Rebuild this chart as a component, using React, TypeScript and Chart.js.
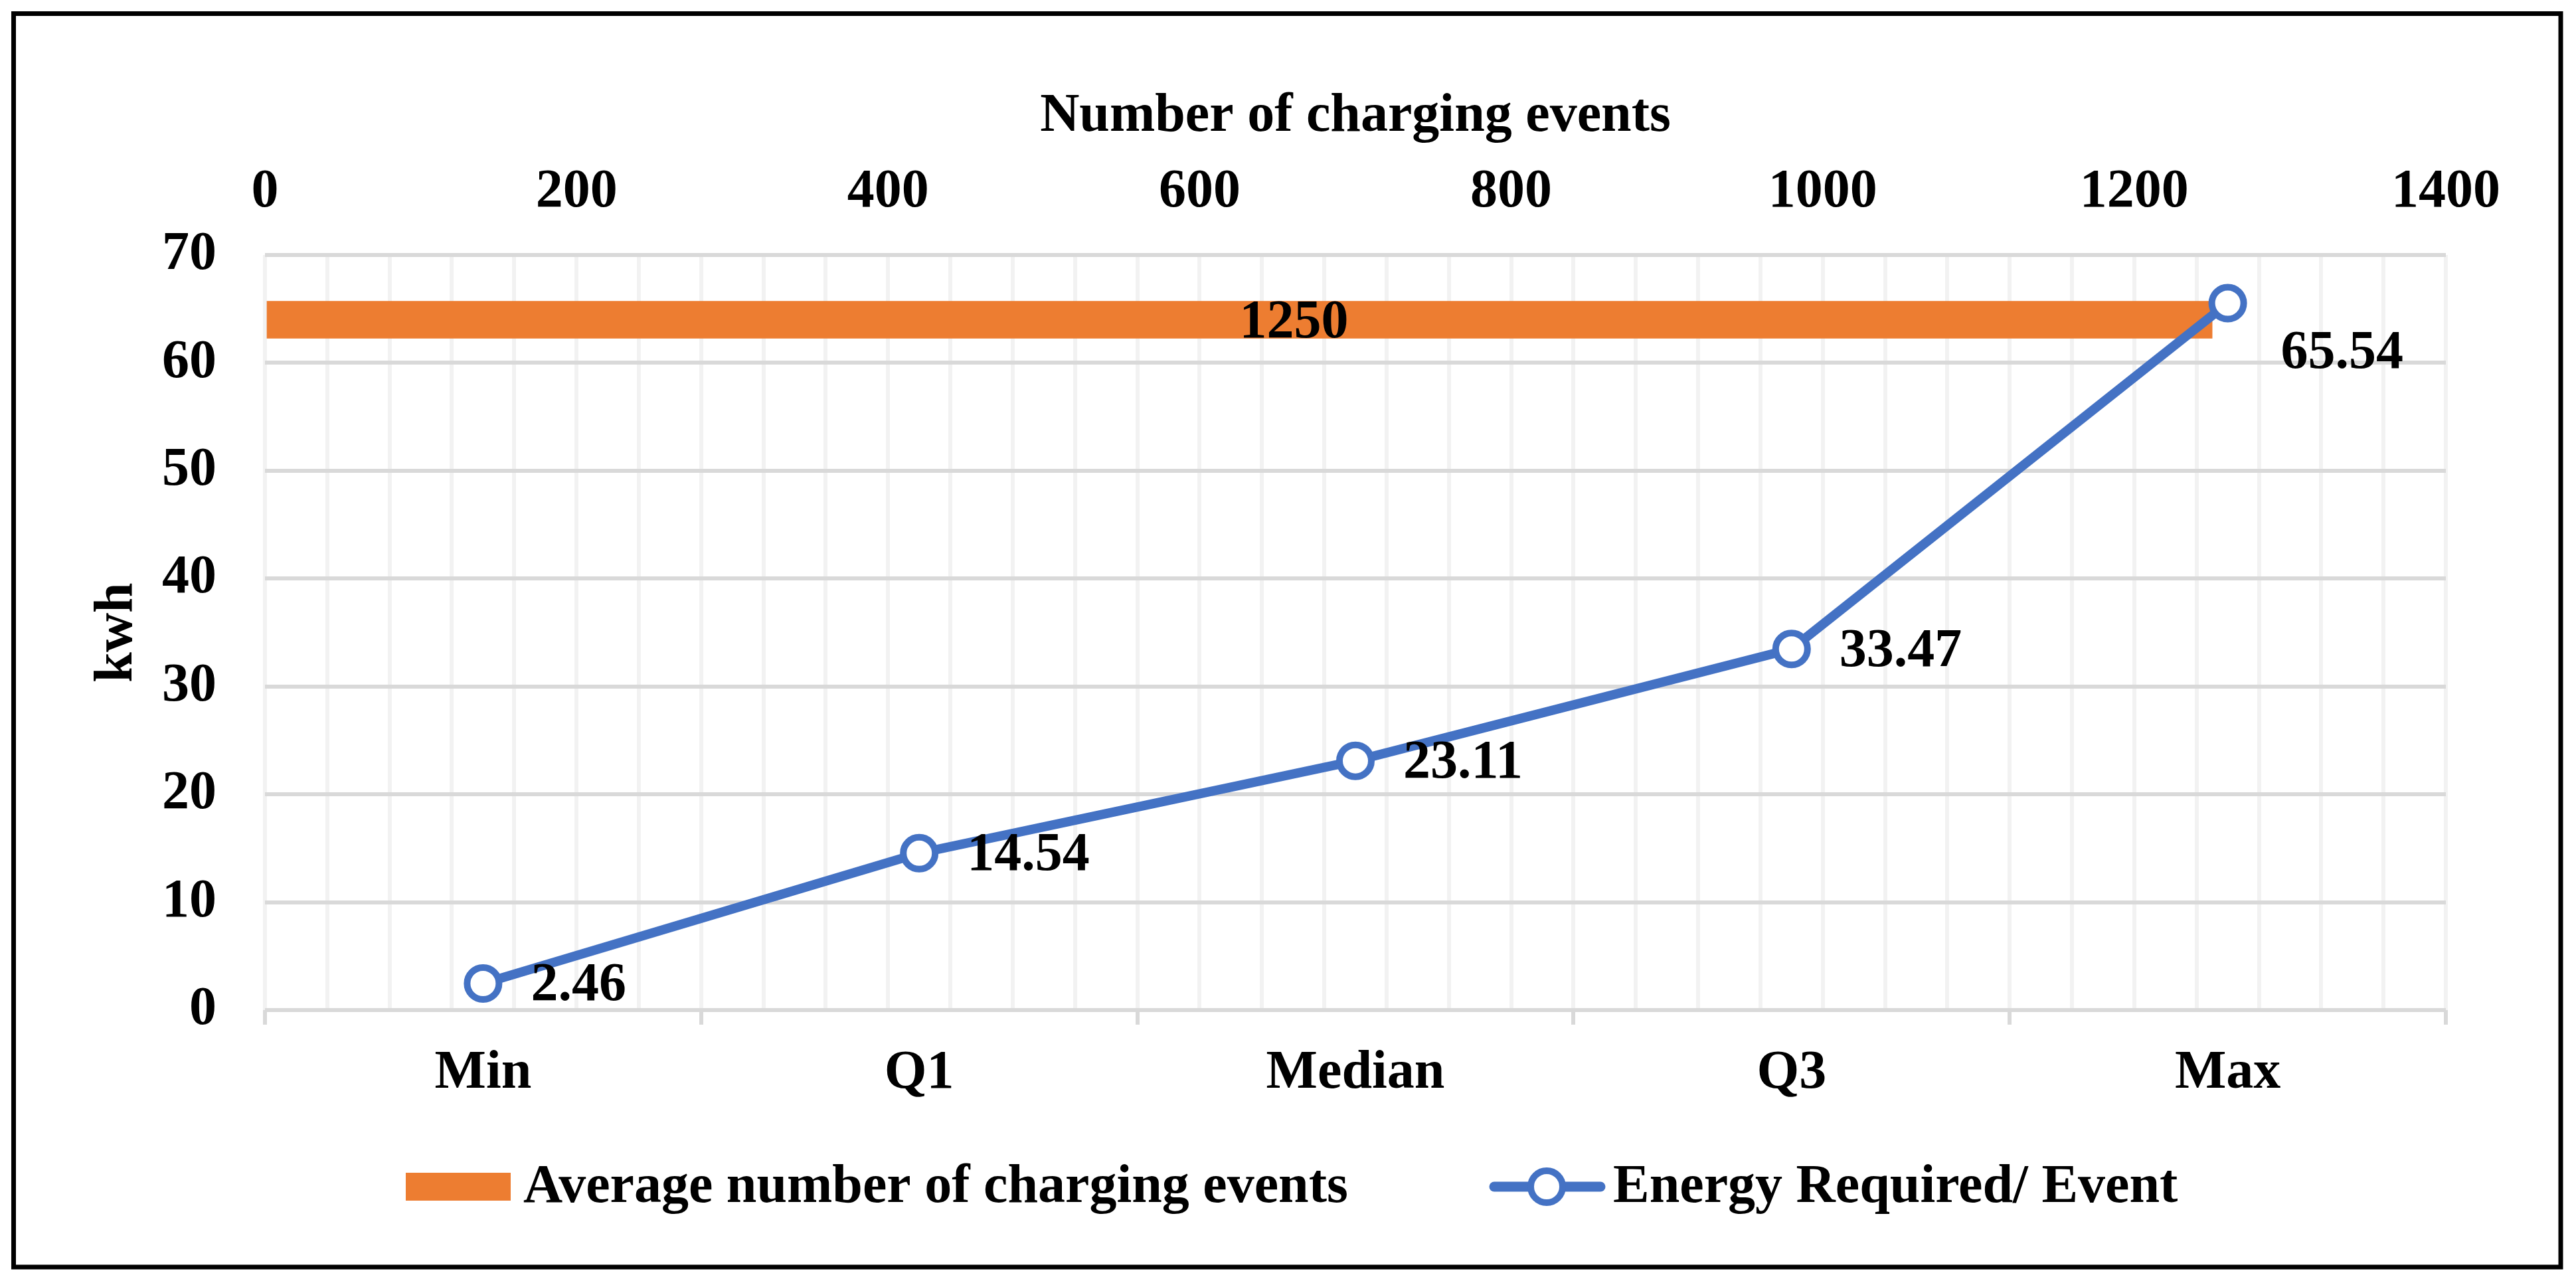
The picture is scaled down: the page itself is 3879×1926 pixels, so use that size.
import { useEffect, useRef } from 'react';
import { Chart, registerables } from 'chart.js';

Chart.register(...registerables);

// ---- data ----
const categories = ['Min', 'Q1', 'Median', 'Q3', 'Max'];
const energyPerEvent = [2.46, 14.54, 23.11, 33.47, 65.54];
const avgChargingEvents = [1250];
const avgChargingEventsLevel = [64];
const seriesNames = ['Average number of charging events', 'Energy Required/ Event'];
const kwhRange = [0, 70];
const kwhStep = 10;
const eventsRange = [0, 1400];
const eventsLabelStep = 200;
const eventsGridStep = 40;

// ---- style ----
const W = 3879;
const H = 1926;
const FONT = "'Liberation Serif', 'Times New Roman', serif";
const ORANGE = '#ED7D31';
const BLUE = '#4472C4';
const GRID_DARK = '#D9D9D9';
const GRID_LIGHT = '#F2F2F2';
const TXT = '#000000';
const font = { family: FONT, size: 82, weight: 'bold' as const, lineHeight: 1.2 };

const framePlugin = {
  id: 'frame',
  beforeDraw(chart: any) {
    const ctx = chart.ctx;
    ctx.save();
    ctx.fillStyle = '#ffffff';
    ctx.fillRect(0, 0, chart.width, chart.height);
    ctx.restore();
  },
  afterDraw(chart: any) {
    const ctx = chart.ctx;
    ctx.save();
    ctx.strokeStyle = '#000000';
    ctx.lineWidth = 7;
    ctx.strokeRect(20.5, 20.5, 3835.5, 1887.5);
    ctx.restore();
  },
};

const valueLabelPlugin = {
  id: 'valueLabels',
  afterDatasetsDraw(chart: any) {
    const ctx = chart.ctx;
    ctx.save();
    ctx.font = `bold 82px ${FONT}`;
    ctx.fillStyle = TXT;
    ctx.textBaseline = 'middle';
    ctx.textAlign = 'left';
    const barMeta = chart.getDatasetMeta(0);
    barMeta.data.forEach((el: any, i: number) => {
      const p = el.getProps(['x', 'y', 'base'], true);
      ctx.fillText(String(avgChargingEvents[i]), (p.x + p.base) / 2, p.y + 5);
    });
    const lineMeta = chart.getDatasetMeta(1);
    lineMeta.data.forEach((el: any, i: number) => {
      const last = i === energyPerEvent.length - 1;
      ctx.fillText(
        energyPerEvent[i].toFixed(2),
        el.x + (last ? 80 : 72),
        el.y + (last ? 76 : 4)
      );
    });
    ctx.restore();
  },
};

const legendPlugin = {
  id: 'customLegend',
  afterDraw(chart: any) {
    const ctx = chart.ctx;
    const cy = 1787;
    ctx.save();
    ctx.fillStyle = ORANGE;
    ctx.fillRect(611, cy - 21, 158, 42);
    ctx.font = `bold 82px ${FONT}`;
    ctx.fillStyle = TXT;
    ctx.textBaseline = 'middle';
    ctx.textAlign = 'left';
    ctx.fillText(seriesNames[0], 788, cy + 2);

    ctx.strokeStyle = BLUE;
    ctx.lineWidth = 15;
    ctx.lineCap = 'round';
    ctx.beginPath();
    ctx.moveTo(2250, cy);
    ctx.lineTo(2410, cy);
    ctx.stroke();
    ctx.beginPath();
    ctx.arc(2329, cy, 24, 0, Math.PI * 2);
    ctx.fillStyle = '#ffffff';
    ctx.fill();
    ctx.lineWidth = 10;
    ctx.stroke();

    ctx.fillStyle = TXT;
    ctx.fillText(seriesNames[1], 2429, cy + 2);
    ctx.restore();
  },
};

export default function App() {
  const ref = useRef<HTMLCanvasElement>(null);

  useEffect(() => {
    if (!ref.current) return;
    const chart = new Chart(ref.current, {
      type: 'bar',
      data: {
        labels: categories,
        datasets: [
          {
            type: 'bar',
            label: seriesNames[0],
            indexAxis: 'y',
            xAxisID: 'x2',
            yAxisID: 'y',
            data: avgChargingEvents.map((v, i) => ({ x: v, y: avgChargingEventsLevel[i] })),
            backgroundColor: ORANGE,
            borderWidth: 0,
            grouped: false,
            barThickness: 56,
            maxBarThickness: 56,
            barPercentage: 1,
            categoryPercentage: 1,
            order: 2,
          } as any,
          {
            type: 'line',
            label: seriesNames[1],
            xAxisID: 'x',
            yAxisID: 'y',
            data: energyPerEvent,
            borderColor: BLUE,
            borderWidth: 14,
            pointRadius: 24,
            pointBorderWidth: 10,
            pointBackgroundColor: '#ffffff',
            pointBorderColor: BLUE,
            fill: false,
            tension: 0,
            order: 1,
          } as any,
        ],
      },
      options: {
        responsive: false,
        devicePixelRatio: 1,
        animation: false,
        events: [],
        layout: { padding: { left: 0, top: 0, right: 196, bottom: 0 } },
        plugins: {
          legend: { display: false },
          tooltip: { enabled: false },
          title: { display: false },
        },
        scales: {
          x: {
            type: 'category',
            position: 'bottom',
            offset: true,
            grid: {
              offset: true,
              color: GRID_DARK,
              lineWidth: 6,
              drawTicks: true,
              tickLength: 22,
              tickColor: GRID_DARK,
              tickWidth: 6,
            },
            border: { display: false },
            ticks: { color: TXT, font, padding: 25, maxRotation: 0, autoSkip: false },
            afterFit(s: any) {
              s.height = H - 1521;
            },
          },
          x2: {
            type: 'linear',
            position: 'top',
            axis: 'x',
            offset: false,
            beginAtZero: true,
            min: eventsRange[0],
            max: eventsRange[1],
            z: -1,
            grid: { offset: false, color: GRID_LIGHT, lineWidth: 6, drawTicks: false },
            border: { display: false },
            ticks: {
              stepSize: eventsGridStep,
              autoSkip: false,
              maxRotation: 0,
              padding: 45,
              color: TXT,
              font,
              callback: (v: any) => (Number(v) % eventsLabelStep === 0 ? String(v) : ''),
            },
            title: {
              display: true,
              text: 'Number of charging events',
              color: TXT,
              font,
              padding: { top: 127, bottom: 0 },
            },
            afterFit(s: any) {
              s.height = 384;
            },
          },
          y: {
            type: 'linear',
            position: 'left',
            offset: false,
            min: kwhRange[0],
            max: kwhRange[1],
            grid: { offset: false, color: GRID_DARK, lineWidth: 6, drawTicks: false },
            border: { display: false },
            ticks: { stepSize: kwhStep, padding: 73, color: TXT, font },
            title: {
              display: true,
              text: 'kwh',
              color: TXT,
              font,
              padding: { top: 128, bottom: 0 },
            },
            afterFit(s: any) {
              s.width = 399;
            },
          },
        } as any,
      },
      plugins: [framePlugin, valueLabelPlugin, legendPlugin],
    } as any);
    return () => chart.destroy();
  }, []);

  return (
    <div style={{ position: 'absolute', left: 0, top: 0, width: W, height: H, background: '#ffffff' }}>
      <canvas ref={ref} width={W} height={H} style={{ display: 'block', width: W, height: H }} />
    </div>
  );
}
